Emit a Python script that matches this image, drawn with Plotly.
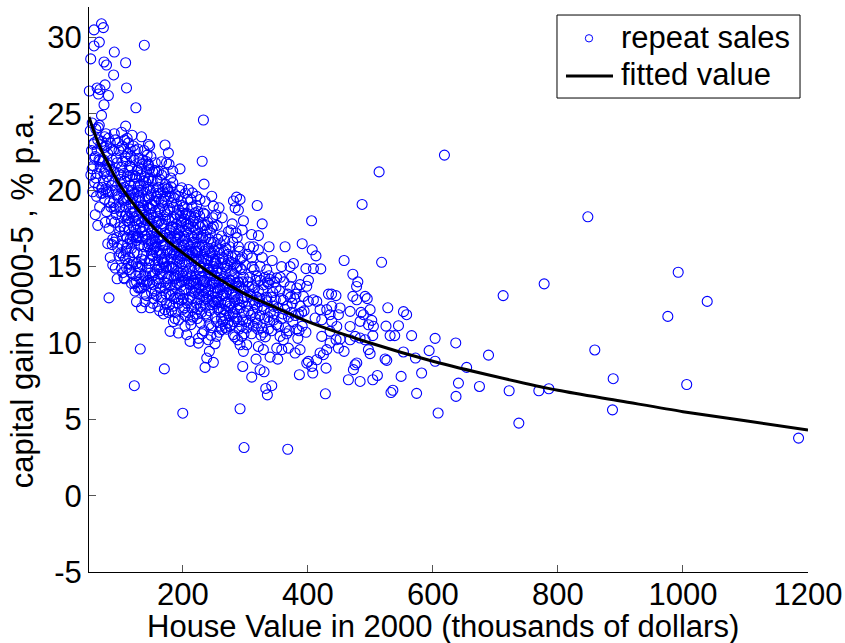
import plotly.graph_objects as go

# ---------------- data ----------------
# house value in 2000 (thousands of dollars), capital gain 2000-5 (% p.a.)
pts_top_left = [(52.7,28.6),(58,30.5),(58,29.45),(66.5,29.7),(70,30.9),(73,30.65),(74,28.4),(78,28.2),
    (90.5,29.05),(89.4,27.55),(108.6,28.35),(50.5,26.5),(63,26.7),(67.6,26.6),(65,26.3),(75.6,26.9),
    (81,26.2),(110,26.7),(74,25.6),(70,24.9),(66.5,24.25),(108.6,24.2),(90.5,23.7),(125,25.4),(138.5,29.5)]

pts_upper_edge = [(134,23.5),(145,23.0),(147,22.9),(171.6,22.96),(177,22.45),(166,21.87),(174,21.8),(178,21.7),
    (184,21.25),(195.6,21.4),(231,21.9),(233,24.6),(234,20.4),(145,20.7),(128.9,20.3),(142.3,20.05),
    (152.9,20.16),(171.6,20.16),(181.2,20.22),(198.3,20.16),(208.9,20.05),(215.3,19.83),(213.2,19.39),
    (227.6,19.39),(235.6,19.28),(246.3,19.61),(248.9,18.96),(235.6,18.41),(248.9,17.64),(219.6,18.52),
    (203.6,18.41),(222,19.6),(286,19.55),(291.6,19.4),(281,19.3),(319,19.0),(258,18.85),(283.6,18.85),
    (289,18.7),(297,18.0),(327,17.8),(406,18.0),(277,17.4),(310,17.1),(321,17.03),(289,16.3),(313,16.3),
    (338,16.3),(363.6,16.3),(391,16.5),(407,16.1),(413,15.7),(377,15.2),(371.6,15.0),(358,15.0),(397,14.87),
    (409,14.87),(420.7,14.85),(401,14.1),(433,13.2),(310.3,15.57),(323.6,15.02),(318.3,14.37),(334.3,14.8),
    (350.3,14.26),(339.6,14.15),(371.6,13.71),(160.9,21.25),(145,21.6)]

pts_lower_left = [(82,12.95),(95,14.2),(106,14.26),(87,16.44),(118,15.1),(126,15.2),(123.6,13.4),(131.6,13.6),
    (126,12.7),(139.6,12.7),(134,12.3),(147.6,12.3),(122.5,7.2),(132,9.6),(170.5,8.3),(200,5.4),(171.6,12.18),
    (187.6,11.6),(203.6,11.09),(225,10.3),(179.6,10.76),(192.9,10.65),(206.3,10.54),(211.6,10.1),(224.9,9.99),
    (240.9,10.21),(251.6,9.95),(254.3,10.43),(262.3,10.87),(275.6,11.08),(280.9,10.54),(294.3,10.43),
    (302.3,10.98),(291.6,9.88),(302.3,9.88)]

pts_lower_mid = [(238.3,9.01),(235.6,8.4),(248.9,8.73),(242.5,9.45),(295.9,8.46),(296.9,9.45),(310.3,7.76),
    (317.2,8.94),(323.6,8.24),(330,8.11),(342.3,7.2),(332.7,7.02),(335.3,6.6),(339.6,9.07),(351.9,8.94),
    (386.5,7.92),(401,8.79),(407.9,8.03),(428.1,6.67),(429.2,8.35),(419.6,9.34),(291.6,5.69),(298,3.15),
    (367.9,3.04),(368.9,9.66),(379.6,9.34),(387.6,9.56),(358.3,9.56),(350.3,9.66),(320.9,9.77),(328.9,9.56),
    (398.3,8.68),(406.3,8.46),(414.3,8.9),(424.9,9.23),(430.3,9.56)]

pts_mid_right = [(518,15.28),(458,15.4),(472,14.5),(480,14.0),(478,13.7),(438,13.2),(445,13.1),(472,13.05),
    (491.6,13.05),(495,12.9),(527.9,12.3),(553,12.05),(558,11.85),(525,11.1),(545,11.13),(539,10.48),
    (566,10.48),(603.6,10.3),(636.6,10.0),(594,9.5),(582,8.03),(603.6,8.8),(654,8.4),(689,9.2),(640.9,7.37),
    (674.5,7.15),(637,6.5),(574,6.7),(536,6.9),(533,6.75),(486.8,19.07),(514,21.2),
    (485.2,12.0),(502.3,11.48),(504.9,11.09),(503.9,10.48),(491.6,10.21),(496.9,9.56),(499.6,9.3),
    (531.6,10.48),(526.3,8.86),(523.6,8.95),(511.3,7.87),(503.9,7.59),(483.6,7.48),(475.6,8.57),(478.3,8.69),
    (464.9,7.59),(472.9,8.25),(458,9.45),(467.6,10.21),(448.9,9.67),(445.2,10.21),(435.6,10.0),
    (382.3,13.6),(387.6,13.82),(398.3,13.71),(408.9,12.83),(400.9,12.72),(392.9,13.05),(414.3,12.72),
    (430.3,12.18),(438.3,12.4),(451.6,12.29),(448.9,11.85),(435.6,11.85),(419.6,12.18),(411.6,11.63),
    (422.3,11.52),(438.3,11.41),(446.3,11.08),(435.6,10.76),(422.3,10.43),(451.6,10.26),(475.6,10.43),
    (483.6,10.32),(467.6,11.08),(483.6,11.41),(497,11.19),(488.9,11.85),(499.6,12.18),(478.3,12.83),
    (467.6,12.07),(360.9,10.21),(355.6,10.43)]

pts_far_right = [(618.5,22.3),(847.9,18.26),(992.4,14.63),(1038.8,12.72),(975.8,11.74),(778,13.87),(712.4,13.1),
    (859,9.54),(888.4,7.66),(1006,7.28),(887.3,5.62),(1184.9,3.77),(785.5,7.0),(769.5,6.87),(737.5,4.75),
    (722,6.87),(608.4,5.41),(572.2,9.01),(552.9,9.41),(549.2,7.81)]

pts_core_50_100 = [(52,23.9),(54,22.6),(55,24.4),(57,21.6),(58,23.1),(59,20.5),(60,22.2),(61,24.0),(62,19.6),
    (63,21.1),(64,23.3),(65,20.2),(66,22.0),(67,18.9),(68,21.5),(69,19.8),(53,21.0),(56,19.9),(60,18.4),(64,17.7),
    (71,23.2),(72,21.9),(73,20.6),(74,22.8),(75,19.4),(76,21.3),(77,23.7),(78,18.6),(79,20.9),(80,22.4),(81,19.9),
    (82,17.5),(83,21.6),(84,23.1),(85,18.9),(86,20.3),(87,22.0),(88,16.8),(89,19.2),(90,21.2),(91,17.9),(92,23.3),
    (93,20.0),(94,18.4),(95,21.8),(96,16.2),(97,19.6),(98,22.6),(99,17.3),(100,20.7),(72,19.8),(76,17.9),(80,16.5),
    (84,15.6),(88,15.1),(92,14.9),(78,22.9),(86,22.7),(94,22.1),(82,20.6),(90,18.8),
    (55,21.4),(57,23.0),(59,22.1),(61,20.8),(63,22.6),(65,24.1),(67,21.9),(69,23.0),(71,20.2),(73,22.0),(75,23.5),
    (77,20.1),(79,21.7),(81,23.4),(83,19.2),(85,21.3),(87,19.9),(89,22.6),(91,20.6),(93,18.9),(95,19.7),(97,21.1),
    (99,18.9),(74,21.1),(78,19.9),(86,18.0),(90,16.6),(94,16.9),(98,15.7),(96,23.1)]

pts_core_100_150 = [(101,18.6),(102,21.5),(103,16.4),(104,19.9),(105,22.7),(106,17.6),(107,20.6),(108,15.5),
    (109,18.9),(110,21.9),(111,16.9),(112,19.4),(113,23.1),(114,14.8),(115,17.9),(116,20.3),(117,22.2),(118,16.2),
    (119,18.5),(120,21.0),(121,15.3),(122,19.8),(123,17.1),(124,22.6),(125,14.4),(101,15.9),(103,20.1),(105,17.0),
    (107,23.3),(109,16.0),(111,20.9),(113,18.2),(115,15.6),(117,19.1),(119,23.6),(121,17.6),(123,20.4),(125,16.7),
    (102,23.8),(106,19.3),(110,14.9),(114,21.3),(118,13.9),(122,22.0),(104,14.6),(108,18.3),(112,16.5),(116,22.7),
    (120,19.5),(124,18.0),(106,21.1),(114,19.6),(120,17.0),(110,18.4),(116,16.8),
    (126,20.8),(127,17.8),(128,15.0),(129,19.6),(130,22.1),(131,16.4),(132,18.7),(133,14.2),(134,21.4),(135,17.3),
    (136,19.9),(137,15.8),(138,22.6),(139,18.1),(140,13.8),(141,20.5),(142,16.8),(143,19.0),(144,14.9),(145,21.7),
    (146,17.6),(147,15.4),(148,20.0),(149,18.4),(150,13.3),(126,18.3),(128,21.3),(130,14.6),(132,20.3),(134,15.5),
    (136,22.0),(138,16.3),(140,19.4),(142,13.1),(144,18.0),(146,20.8),(148,16.1),(150,19.1),(127,15.9),(129,13.6),
    (131,21.8),(133,19.2),(135,15.1),(137,17.6),(139,20.9),(141,14.4),(143,17.1),(145,19.5),(147,13.9),(149,16.7),
    (126,16.9),(130,18.9),(134,17.9),(138,14.4),(142,21.2),(146,15.2),(150,17.2),(128,17.0),(136,14.0),(144,16.3),
    (148,18.8),
    (100,17.6),(101,21.0),(102,14.9),(103,18.3),(104,21.9),(105,15.7),(106,20.2),(107,17.4),(108,22.2),(109,19.5),
    (110,16.2),(111,18.0),(112,22.4),(113,15.2),(114,17.4),(115,20.9),(116,18.6),(117,14.6),(118,21.5),(119,16.6),
    (120,18.9),(121,22.9),(122,15.9),(123,18.6),(124,20.9),(125,17.4),(126,14.0),(127,19.9),(128,22.7),(129,16.9),
    (130,20.0),(131,15.0),(132,17.5),(133,21.0),(134,13.6),(135,18.8),(136,16.8),(137,20.6),(138,18.7),(139,15.4),
    (140,17.0),(141,21.9),(142,18.3),(143,14.0),(144,20.2),(145,16.5),(146,18.8),(147,21.4),(148,14.6),(149,19.7),
    (150,15.8),(103,22.9),(107,14.2),(111,23.4),(115,21.6),(119,20.0),(123,13.9),(127,21.3),(131,19.5),(135,21.7),
    (139,13.2),(143,22.3),(147,18.1),(105,19.4),(113,20.0),(121,18.2),(129,18.0),(137,19.0),(145,14.1),(149,22.2)]

pts_core_150_200 = [(151,20.6),(152,15.7),(153,18.2),(154,12.9),(155,21.3),(156,16.6),(157,14.1),(158,19.6),
    (159,17.3),(160,12.4),(161,20.2),(162,15.0),(163,18.8),(164,13.6),(165,16.9),(166,21.0),(167,14.5),(168,19.0),
    (169,11.9),(170,17.7),(171,15.6),(172,20.4),(173,13.2),(174,18.4),(175,16.0),(151,17.4),(153,13.8),(155,16.2),
    (157,19.3),(159,14.8),(161,17.9),(163,12.1),(165,19.8),(167,16.7),(169,15.2),(171,18.6),(173,14.9),(175,20.1),
    (152,19.0),(154,16.9),(156,13.4),(158,17.9),(160,15.4),(162,19.4),(164,16.0),(166,13.0),(168,17.0),(170,14.0),
    (172,16.4),(174,12.6),(152,12.6),(158,15.9),(164,20.7),(170,19.4),(156,21.8),(162,13.9),(168,15.3),(174,15.0),
    (160,18.3),(166,17.8),
    (176,18.7),(177,14.3),(178,16.8),(179,12.5),(180,19.6),(181,15.5),(182,17.6),(183,13.4),(184,20.5),(185,14.9),
    (186,16.3),(187,18.2),(188,12.0),(189,15.8),(190,19.1),(191,13.9),(192,17.1),(193,11.5),(194,16.0),(195,20.0),
    (196,14.4),(197,17.9),(198,12.8),(199,15.2),(200,18.5),(176,16.1),(178,13.2),(180,17.4),(182,15.0),(184,12.4),
    (186,19.5),(188,16.6),(190,14.7),(192,12.9),(194,18.7),(196,16.9),(198,14.0),(200,12.2),(177,19.9),(179,17.2),
    (181,13.1),(183,16.1),(185,18.9),(187,14.2),(189,17.5),(191,15.4),(193,19.6),(195,13.2),(197,15.7),(199,17.6),
    (177,12.0),(181,20.8),(185,11.4),(189,13.0),(193,14.6),(197,19.3),(183,18.1),(187,15.9),(191,16.8),(195,17.0),
    (150,16.5),(151,14.4),(152,21.2),(153,16.1),(154,19.3),(155,14.6),(156,18.6),(157,16.3),(158,13.1),(159,20.6),
    (160,16.9),(161,14.2),(162,18.0),(163,15.8),(164,18.6),(165,14.9),(166,19.3),(167,12.8),(168,16.4),(169,19.9),
    (170,15.3),(171,17.2),(172,13.6),(173,19.6),(174,17.1),(175,14.2),(176,20.1),(177,16.9),(178,15.0),(179,18.8),
    (180,13.8),(181,16.8),(182,19.2),(183,14.9),(184,17.6),(185,15.8),(186,12.9),(187,17.0),(188,19.7),(189,14.4),
    (190,16.3),(191,18.4),(192,15.6),(193,12.6),(194,17.4),(195,15.3),(196,18.3),(197,13.7),(198,16.3),(199,19.0),
    (200,14.4),(154,17.6),(158,21.2),(162,16.8),(166,15.5),(170,21.1),(174,13.9),(178,18.0),(182,12.1),(186,14.3),
    (190,17.8),(194,13.9),(198,18.0),(156,15.1),(164,14.5),(172,18.1),(180,15.9),(188,13.8),(196,15.5),(160,19.8)]

pts_core_200_250 = [(201,16.4),(202,13.5),(203,18.1),(204,11.8),(205,15.1),(206,17.3),(207,12.6),(208,19.4),
    (209,14.2),(210,16.0),(211,13.0),(212,17.8),(213,11.2),(214,15.6),(215,18.9),(216,14.0),(217,16.6),(218,12.3),
    (219,15.0),(220,17.4),(221,13.6),(222,19.0),(223,11.6),(224,14.8),(225,16.9),(201,14.7),(203,12.3),(205,17.8),
    (207,15.8),(209,18.4),(211,16.3),(213,14.4),(215,12.9),(217,18.0),(219,13.3),(221,15.5),(223,17.1),(225,13.2),
    (202,17.0),(204,19.8),(206,14.6),(208,12.0),(210,15.3),(212,11.5),(214,17.0),(216,15.9),(218,14.1),(220,11.9),
    (222,16.2),(224,18.6),(206,16.0),(210,13.9),(214,13.4),(218,16.9),(222,12.6),
    (226,15.5),(227,12.9),(228,17.6),(229,11.3),(230,14.3),(231,16.4),(232,13.1),(233,18.5),(234,10.8),(235,15.2),
    (236,12.4),(237,16.9),(238,14.0),(239,11.7),(240,17.9),(241,13.5),(242,15.7),(243,12.1),(244,14.6),(245,16.6),
    (246,11.0),(247,13.9),(248,18.2),(249,15.0),(250,12.7),(226,13.6),(228,15.0),(230,12.0),(232,16.9),(234,14.1),
    (236,17.7),(238,12.9),(240,15.4),(242,11.2),(244,17.2),(246,14.4),(248,12.5),(250,16.1),(227,18.3),(229,14.9),
    (231,10.6),(233,13.8),(235,16.0),(237,11.9),(239,14.9),(241,16.2),(243,13.7),(245,10.5),(247,15.9),(249,13.3),
    (200,16.7),(201,12.9),(202,18.9),(203,15.3),(204,16.8),(205,13.5),(206,18.5),(207,14.4),(208,16.5),(209,12.8),
    (210,17.5),(211,14.9),(212,16.1),(213,18.3),(214,12.3),(215,15.9),(216,17.6),(217,13.9),(218,15.4),(219,18.2),
    (220,14.3),(221,16.6),(222,13.9),(223,15.9),(224,12.2),(225,17.8),(226,14.6),(227,16.3),(228,12.4),(229,16.8),
    (230,15.3),(231,13.4),(232,17.7),(233,15.6),(234,12.8),(235,14.0),(236,16.1),(237,13.3),(238,15.5),(239,17.4),
    (240,12.8),(241,14.8),(242,16.8),(243,14.4),(244,12.5),(245,15.4),(246,17.5),(247,12.8),(248,14.7),(249,16.6),
    (250,14.0),(204,14.1),(212,13.8),(220,16.0),(228,14.1),(236,13.6),(244,15.9),(208,17.7),(216,11.7),(224,16.0)]

pts_core_250_400 = [(251,14.4),(252,11.7),(253,16.3),(254,13.0),(255,17.7),(256,12.2),(257,14.9),(258,10.7),
    (259,15.9),(260,13.5),(261,12.0),(262,17.0),(263,14.2),(264,11.4),(265,15.5),(266,13.1),(267,16.7),(268,12.6),
    (269,14.6),(270,10.9),(271,15.1),(272,13.7),(273,17.3),(274,11.8),(275,14.1),(252,15.4),(254,12.8),(256,16.8),
    (258,14.0),(260,11.1),(262,15.2),(264,13.7),(266,16.0),(268,11.0),(270,13.3),(272,15.8),(274,12.4),(253,18.4),
    (257,12.7),(261,14.6),(265,12.2),(269,16.2),(273,13.9),(255,13.6),(263,18.2),
    (276,12.6),(277,15.3),(278,11.2),(279,13.8),(280,16.6),(281,12.0),(282,14.5),(283,10.4),(284,13.2),(285,17.2),
    (286,11.6),(287,15.0),(288,12.9),(289,14.0),(290,10.9),(291,16.0),(292,12.3),(293,13.6),(294,11.1),(295,15.6),
    (296,12.7),(297,14.3),(298,10.6),(299,13.0),(300,15.1),(278,14.7),(282,11.4),(286,13.7),(290,12.5),(294,14.8),
    (298,12.0),(280,13.4),(284,15.7),(288,10.2),(292,14.9),(296,11.5),(279,17.8),(287,16.9),(295,17.4),(283,12.7),
    (302,12.4),(304,14.0),(306,11.3),(308,13.2),(310,10.6),(312,12.0),(314,14.8),(316,11.6),(318,13.0),(320,10.9),
    (322,12.7),(324,14.1),(326,11.0),(328,13.5),(330,12.2),(332,10.4),(334,13.0),(336,11.7),(338,14.4),(340,12.0),
    (342,10.8),(344,13.3),(346,11.9),(348,12.8),(350,11.2),(303,15.8),(307,16.3),(311,15.0),(315,13.6),(319,12.3),
    (323,11.8),(327,15.6),(331,14.3),(335,12.7),(339,11.4),(343,15.4),(347,14.0),(305,13.7),(313,12.8),(321,16.1),
    (329,10.7),(337,13.9),(345,12.4),
    (352,12.3),(355,13.4),(358,11.6),(361,12.8),(364,11.0),(367,12.4),(370,10.8),(373,12.0),(376,11.4),(379,12.9),
    (382,10.9),(385,11.9),(388,12.4),(391,11.1),(394,12.1),(397,10.7),(356,14.3),(362,14.0),(368,13.2),(374,14.3),
    (380,11.8),(386,10.8),(360,11.9),(366,10.6),(372,13.0),
    (250,15.2),(251,12.6),(252,13.6),(253,15.2),(254,11.4),(255,14.7),(256,13.3),(257,16.1),(258,12.3),(259,14.1),
    (260,16.5),(261,13.1),(262,11.6),(263,15.6),(264,13.2),(265,14.2),(266,11.8),(267,15.0),(268,13.9),(269,12.1),
    (270,14.9),(271,12.7),(272,11.3),(273,15.4),(274,13.5),(275,16.3),(276,14.1),(277,12.3),(278,13.2),(279,15.6),
    (280,11.9),(281,14.2),(282,13.0),(283,15.2),(284,11.7),(285,13.9),(286,14.9),(287,12.2),(288,14.0),(289,11.4),
    (290,13.7),(292,15.5),(294,12.9),(296,14.0),(298,13.5),
    (301,11.4),(303,13.0),(305,12.1),(307,14.3),(309,11.8),(311,13.7),(313,11.1),(315,12.5),(317,14.1),(319,11.3),
    (321,13.4),(323,12.9),(325,10.5),(327,12.4),(329,13.8),(331,11.6),(333,12.8),(335,14.0),(337,10.9),(341,13.0),
    (345,11.5),(349,13.6),(353,11.1),(357,12.9),(363,12.2),(369,11.7),(375,12.6),(381,13.2),(384,10.3),(390,12.0)]

point_groups = [pts_top_left, pts_upper_edge, pts_lower_left, pts_lower_mid, pts_mid_right, pts_far_right,
                pts_core_50_100, pts_core_100_150, pts_core_150_200, pts_core_200_250, pts_core_250_400]
house_value = [p[0] for g in point_groups for p in g]
capital_gain = [p[1] for g in point_groups for p in g]

# fitted curve, read at several x positions
fit_x = [50, 60, 70, 80, 90, 100, 125, 150, 175, 200, 250, 300, 350, 400, 500, 600, 700, 800, 900, 1000, 1100, 1200]
fit_y = [24.8, 23.6, 22.6, 21.8, 21.0, 20.3, 18.9, 17.7, 16.7, 15.9, 14.4, 13.2, 12.3, 11.4, 10.0, 8.8, 7.8, 6.9,
         6.2, 5.5, 4.9, 4.3]

x_ticks = [200, 400, 600, 800, 1000, 1200]
y_ticks = [-5, 0, 5, 10, 15, 20, 25, 30]
series_names = ["repeat sales", "fitted value"]

FONT = "Liberation Sans, Arial, Helvetica, sans-serif"
FS = 31
BLUE = "#0000ff"

fig = go.Figure()
fig.add_trace(go.Scatter(
    x=house_value, y=capital_gain, mode="markers", name=series_names[0], showlegend=False,
    marker=dict(symbol="circle-open", size=10, color=BLUE, line=dict(width=1.1, color=BLUE)),
    cliponaxis=False))
fig.add_trace(go.Scatter(
    x=fit_x, y=fit_y, mode="lines", name=series_names[1], showlegend=False,
    line=dict(color="black", width=3, shape="spline", smoothing=0.8)))

axis_common = dict(showgrid=False, zeroline=False, showline=True, linecolor="black", linewidth=1,
                   ticks="inside", ticklen=7, tickwidth=1, tickcolor="#555555", automargin=False,
                   tickfont=dict(family=FONT, size=FS, color="black"), mirror=False)

# legend box drawn in paper coordinates (MATLAB-style boxed legend)
legend_shapes = [
    dict(type="rect", xref="paper", yref="paper", x0=0.6509, x1=0.9889, y0=0.8389, y1=0.9858,
         line=dict(color="black", width=1), fillcolor="white", layer="above"),
    dict(type="circle", xref="paper", yref="paper", x0=0.6954 - 0.0051, x1=0.6954 + 0.0051,
         y0=0.9446 - 0.0065, y1=0.9446 + 0.0065, line=dict(color=BLUE, width=1), layer="above"),
    dict(type="line", xref="paper", yref="paper", x0=0.6634, x1=0.7288, y0=0.8779, y1=0.8779,
         line=dict(color="black", width=3), layer="above"),
]
legend_texts = [
    dict(text=series_names[0], xref="paper", yref="paper", x=0.7371, y=0.9458, xanchor="left",
         yanchor="middle", showarrow=False, font=dict(family=FONT, size=FS, color="black")),
    dict(text=series_names[1], xref="paper", yref="paper", x=0.7371, y=0.8809, xanchor="left",
         yanchor="middle", showarrow=False, font=dict(family=FONT, size=FS, color="black")),
]

fig.update_layout(
    width=845, height=643,
    margin=dict(l=89, r=37, t=7, b=71, autoexpand=False),
    paper_bgcolor="white", plot_bgcolor="white",
    font=dict(family=FONT, size=FS, color="black"),
    xaxis=dict(range=[50, 1200], tickvals=x_ticks, ticktext=[str(v) for v in x_ticks],
               ticklabelstandoff=-5, **axis_common),
    yaxis=dict(range=[-5, 32], tickvals=y_ticks, ticktext=[str(v) for v in y_ticks], **axis_common),
    showlegend=False,
    shapes=legend_shapes,
    annotations=[
        dict(text="House Value in 2000 (thousands of dollars)", xref="paper", yref="paper",
             x=0.4919, y=-0.0973, xanchor="center", yanchor="middle", showarrow=False,
             font=dict(family=FONT, size=FS, color="black")),
        dict(text="capital gain 2000-5 , % p.a.", xref="paper", yref="paper",
             x=-0.0932, y=0.481, xanchor="center", yanchor="middle", textangle=-90, showarrow=False,
             font=dict(family=FONT, size=FS, color="black")),
    ] + legend_texts,
)

fig.write_html("out.html", config={"displayModeBar": False},
               post_script="document.body.style.margin='0';document.body.style.overflow='hidden';")
